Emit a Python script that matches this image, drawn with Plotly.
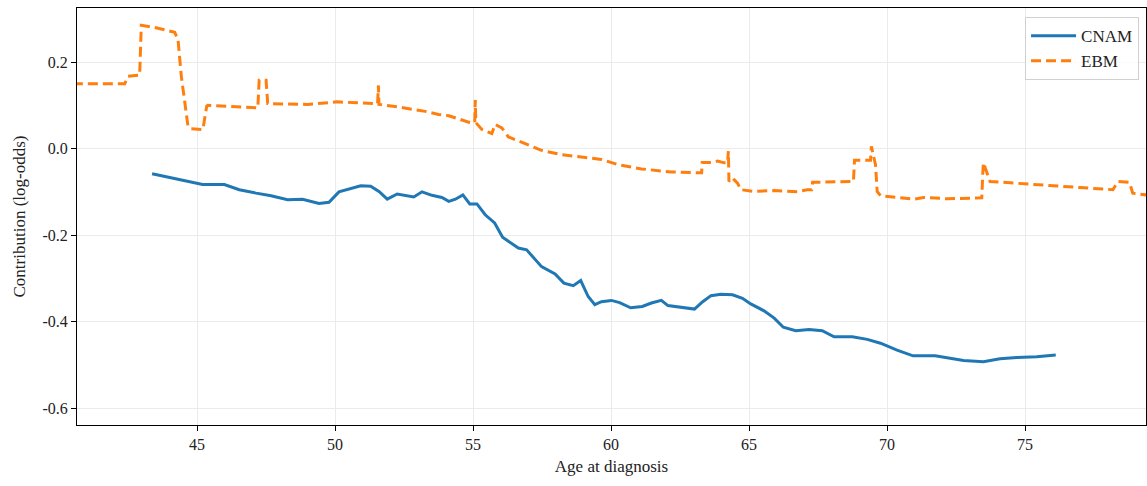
import plotly.graph_objects as go

# CNAM shape function (age -> contribution)
cnam_age = [43.37, 45.03, 45.2, 45.99, 46.53, 47.14, 47.68, 48.28, 48.82, 49.42, 49.78,
            50.14, 50.5, 50.93, 51.29, 51.59, 51.89, 52.25, 52.85, 53.15, 53.51, 53.87,
            54.12, 54.36, 54.63, 54.88, 55.14, 55.44, 55.78, 56.07, 56.64, 56.94, 57.48,
            57.97, 58.29, 58.63, 58.9, 59.17, 59.41, 59.65, 60.01, 60.31, 60.71, 61.13,
            61.46, 61.82, 62.06, 62.54, 63.02, 63.32, 63.62, 63.98, 64.4, 64.76, 65.06,
            65.54, 65.91, 66.24, 66.69, 67.17, 67.65, 68.08, 68.74, 69.28, 69.76, 70.36,
            70.94, 71.74, 72.29, 72.77, 73.49, 74.09, 74.7, 75.42, 76.11]
cnam_val = [-0.058, -0.081, -0.083, -0.083, -0.095, -0.103, -0.109, -0.118, -0.117, -0.127, -0.124,
            -0.100, -0.093, -0.086, -0.087, -0.099, -0.117, -0.105, -0.112, -0.100, -0.108, -0.113,
            -0.122, -0.117, -0.107, -0.128, -0.128, -0.153, -0.172, -0.205, -0.230, -0.234, -0.273,
            -0.290, -0.311, -0.317, -0.305, -0.342, -0.361, -0.354, -0.351, -0.356, -0.368, -0.365,
            -0.357, -0.351, -0.363, -0.367, -0.371, -0.354, -0.340, -0.337, -0.338, -0.346, -0.359,
            -0.375, -0.392, -0.413, -0.421, -0.418, -0.421, -0.435, -0.435, -0.441, -0.450, -0.466,
            -0.479, -0.479, -0.485, -0.490, -0.493, -0.486, -0.483, -0.481, -0.477]

# EBM shape function (age -> contribution), traced breakpoints incl. jumps
ebm_age = [40.5, 42.38, 42.5, 42.92, 42.98, 43.47, 44.19, 44.31, 44.43, 44.55, 44.67, 44.79,
           45.21, 45.35, 45.39, 47.2, 47.25, 47.5, 47.56, 49.0, 50.08, 51.4, 51.54, 51.57,
           51.59, 52.31, 53.27, 53.75, 54.12, 54.84, 55.06, 55.08, 55.1, 55.32, 55.68, 55.8,
           56.04, 56.28, 57.0, 57.48, 58.2, 58.93, 59.65, 60.25, 61.1, 62.18, 63.28, 63.3,
           63.62, 63.86, 64.1, 64.22, 64.25, 64.27, 64.4, 64.58, 64.7, 65.19, 65.91, 66.75,
           67.11, 67.27, 67.3, 68.78, 68.82, 69.16, 69.4, 69.43, 69.58, 69.64, 69.76, 70.97,
           71.33, 72.17, 73.43, 73.47, 73.49, 73.73, 74.58, 76.02, 76.98, 78.18, 78.36,
           78.78, 78.9, 79.5]
ebm_val = [0.150, 0.150, 0.167, 0.170, 0.285, 0.280, 0.269, 0.252, 0.167, 0.114, 0.052, 0.046,
           0.044, 0.098, 0.100, 0.094, 0.158, 0.158, 0.104, 0.102, 0.108, 0.104, 0.104, 0.146,
           0.102, 0.096, 0.086, 0.079, 0.076, 0.061, 0.060, 0.112, 0.060, 0.044, 0.035, 0.056,
           0.048, 0.027, 0.009, -0.004, -0.014, -0.019, -0.025, -0.037, -0.047, -0.054, -0.056, -0.032,
           -0.032, -0.029, -0.033, -0.033, -0.006, -0.076, -0.068, -0.080, -0.095, -0.099, -0.097, -0.100,
           -0.095, -0.095, -0.078, -0.076, -0.027, -0.027, -0.027, 0.005, -0.037, -0.099, -0.109, -0.117,
           -0.113, -0.116, -0.114, -0.053, -0.033, -0.076, -0.080, -0.086, -0.090, -0.095, -0.076,
           -0.078, -0.103, -0.108]

x_ticks = [45, 50, 55, 60, 65, 70, 75]
y_ticks = [0.2, 0.0, -0.2, -0.4, -0.6]
y_tick_labels = ["0.2", "0.0", "-0.2", "-0.4", "-0.6"]

FONT = "Liberation Serif, Times New Roman, serif"

fig = go.Figure()
fig.add_trace(go.Scatter(x=cnam_age, y=cnam_val, mode="lines", name="CNAM",
                         line=dict(color="#1f77b4", width=3)))
fig.add_trace(go.Scatter(x=ebm_age, y=ebm_val, mode="lines", name="EBM",
                         line=dict(color="#ff7f0e", width=3, dash="10px,5px")))

axis_common = dict(showline=True, linecolor="black", linewidth=1, mirror=True,
                   ticks="outside", ticklen=5, tickcolor="black",
                   showgrid=True, gridcolor="#ebebeb", gridwidth=1, zeroline=False,
                   tickfont=dict(family=FONT, size=16, color="#222"))

fig.update_layout(
    width=1147, height=486,
    margin=dict(l=77, r=1, t=8, b=61),
    paper_bgcolor="white", plot_bgcolor="white",
    font=dict(family=FONT, size=16, color="#222"),
    xaxis=dict(range=[40.65, 79.38], tickvals=x_ticks,
               title=dict(text="Age at diagnosis", font=dict(family=FONT, size=17), standoff=7),
               **axis_common),
    yaxis=dict(range=[-0.639, 0.325], tickvals=y_ticks, ticktext=y_tick_labels,
               title=dict(text="Contribution (log-odds)", font=dict(family=FONT, size=17), standoff=12),
               **axis_common),
    legend=dict(x=0.9935, y=0.978, xanchor="right", yanchor="top",
                bgcolor="rgba(255,255,255,0.8)", bordercolor="#d0d0d0", borderwidth=1,
                font=dict(family=FONT, size=17), itemwidth=45, tracegroupgap=2),
    showlegend=True,
)

fig.write_html("out.html")
